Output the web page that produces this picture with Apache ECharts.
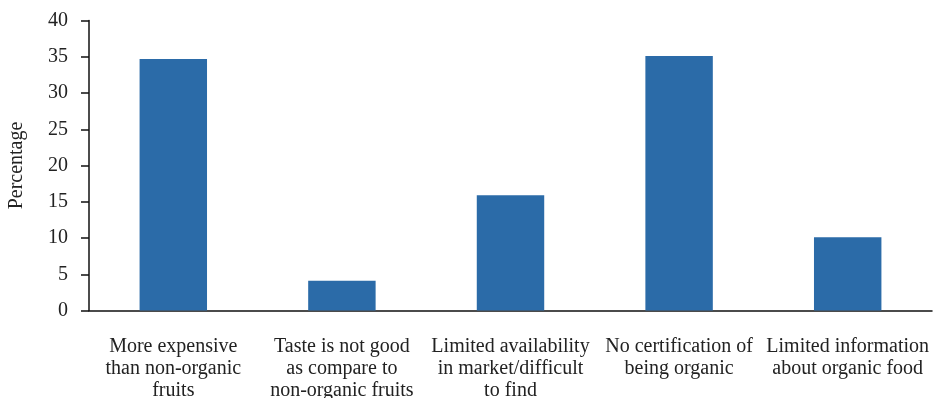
<!DOCTYPE html>
<html>
<head>
<meta charset="utf-8">
<script src="https://cdn.jsdelivr.net/npm/echarts@6/dist/echarts.min.js"></script>
<style>
  html, body { margin: 0; padding: 0; background: #fff; }
  #main { width: 933px; height: 398px; }
</style>
</head>
<body>
<div id="main"></div>
<script>
const categories = [
  'More expensive\nthan non-organic\nfruits',
  'Taste is not good\nas compare to\nnon-organic fruits',
  'Limited availability\nin market/difficult\nto find',
  'No certification of\nbeing organic',
  'Limited information\nabout organic food'
];
const percentages = [34.7, 4.1, 15.9, 35.1, 10.1];
const yTicks = { min: 0, max: 40, interval: 5 };

const chart = echarts.init(document.getElementById('main'));
const font = '"Liberation Serif", "Times New Roman", serif';

const option = {
  animation: false,
  grid: { left: 89, right: 1, top: 20.5, bottom: 87.5, outerBoundsMode: 'none' },
  xAxis: {
    type: 'category',
    data: categories,
    axisLine: { lineStyle: { color: '#111', width: 1.5 } },
    axisTick: { length: 8, lineStyle: { color: '#111', width: 1.5 } },
    axisLabel: {
      color: '#222',
      fontFamily: font,
      fontSize: 20,
      lineHeight: 22,
      margin: 25,
      interval: 0
    }
  },
  yAxis: {
    type: 'value',
    min: yTicks.min,
    max: yTicks.max,
    interval: yTicks.interval,
    name: 'Percentage',
    nameLocation: 'middle',
    nameGap: 62,
    nameTextStyle: { color: '#222', fontFamily: font, fontSize: 20 },
    axisLine: { show: true, lineStyle: { color: '#111', width: 1.5 } },
    axisTick: { show: true, length: 8, lineStyle: { color: '#111', width: 1.5 } },
    splitLine: { show: false },
    axisLabel: { color: '#222', fontFamily: font, fontSize: 20, margin: 21 }
  },
  series: [
    {
      type: 'bar',
      data: percentages,
      barWidth: '40%',
      itemStyle: { color: '#2B6BA8' }
    }
  ]
};

chart.setOption(option);
</script>
</body>
</html>
